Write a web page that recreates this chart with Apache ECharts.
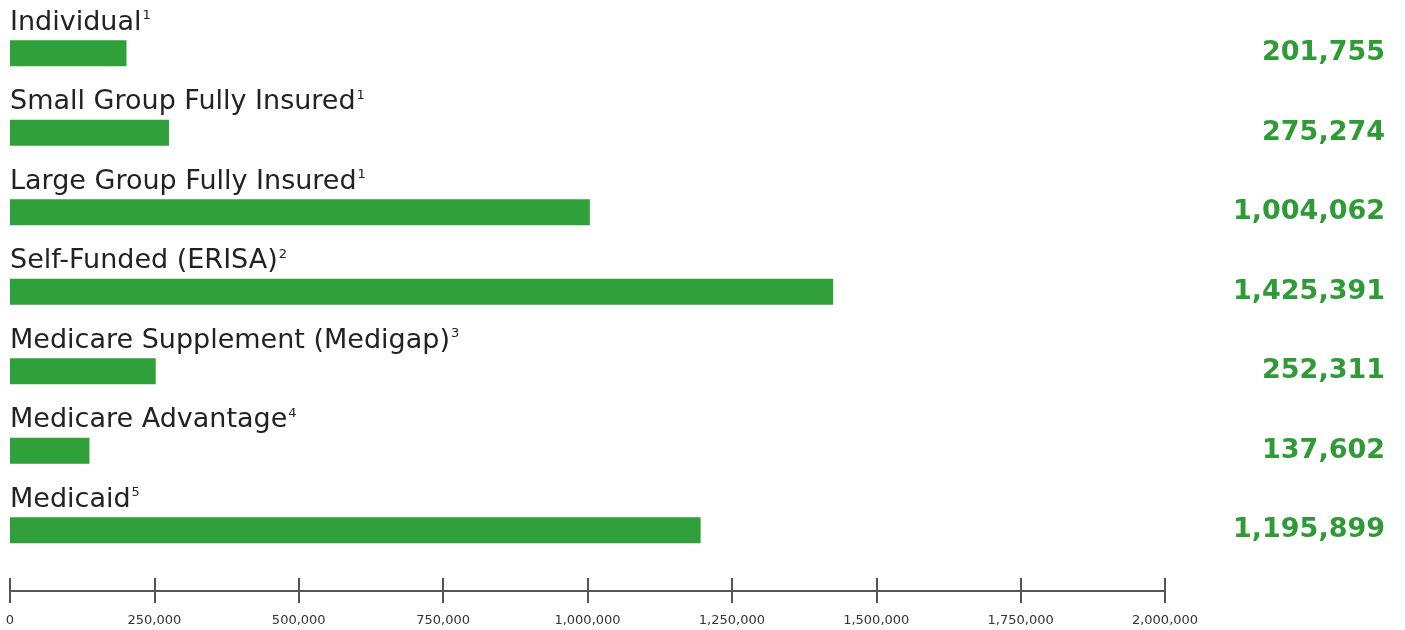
<!DOCTYPE html>
<html>
<head>
<meta charset="utf-8">
<script src="https://cdn.jsdelivr.net/npm/echarts@6/dist/echarts.min.js"></script>
<style>
  html, body { margin: 0; padding: 0; background: #fff; }
  #chart { width: 1405px; height: 630px; }
</style>
</head>
<body>
<div id="chart"></div>
<script>
// Coverage categories, their footnote markers and enrollment counts
const categories = [
  'Individual',
  'Small Group Fully Insured',
  'Large Group Fully Insured',
  'Self-Funded (ERISA)',
  'Medicare Supplement (Medigap)',
  'Medicare Advantage',
  'Medicaid'
];
const footnotes = ['1', '1', '1', '2', '3', '4', '5'];
const enrollment = [201755, 275274, 1004062, 1425391, 252311, 137602, 1195899];
const axisTicks = [0, 250000, 500000, 750000, 1000000, 1250000, 1500000, 1750000, 2000000];

const FONT = 'DejaVu Sans';
const GREEN = '#30a13a';
const fmt = v => v.toLocaleString('en-US');

const chart = echarts.init(document.getElementById('chart'), null, { renderer: 'canvas' });

const xBase = {
  type: 'value',
  min: axisTicks[0],
  max: axisTicks[axisTicks.length - 1],
  interval: axisTicks[1] - axisTicks[0],
  position: 'bottom',
  offset: 21,
  splitLine: { show: false },
  axisLine: { show: true, lineStyle: { color: '#555', width: 2 } }
};

chart.setOption({
  animation: false,
  grid: { left: 10, right: 240, top: 13.5, bottom: 60, containLabel: false },
  xAxis: [
    Object.assign({}, xBase, {
      axisTick: { show: true, inside: false, length: 12, lineStyle: { color: '#555', width: 2 } },
      axisLabel: {
        show: true, margin: 23, color: '#333', fontFamily: FONT, fontSize: 13,
        formatter: v => fmt(v)
      }
    }),
    Object.assign({}, xBase, {
      axisTick: { show: true, inside: true, length: 13, lineStyle: { color: '#555', width: 2 } },
      axisLabel: { show: false }
    })
  ],
  yAxis: [
    {
      type: 'category',
      data: categories,
      inverse: true,
      position: 'left',
      axisLine: { show: false },
      axisTick: { show: false },
      axisLabel: { show: false }
    },
    {
      type: 'category',
      data: enrollment.map(fmt),
      inverse: true,
      position: 'right',
      axisLine: { show: false },
      axisTick: { show: false },
      axisLabel: {
        show: true, align: 'right', margin: 220,
        color: '#2f9b37', fontFamily: FONT, fontWeight: 'bold', fontSize: 27,
        padding: [0, 0, 16, 0]
      }
    }
  ],
  series: [{
    type: 'bar',
    data: enrollment,
    xAxisIndex: 0,
    yAxisIndex: 0,
    barWidth: 26,
    itemStyle: { color: GREEN },
    label: {
      show: true,
      position: [0, -4],
      align: 'left',
      verticalAlign: 'bottom',
      formatter: p => '{n|' + categories[p.dataIndex] + '}{s|' + footnotes[p.dataIndex] + '}',
      rich: {
        n: { fontFamily: FONT, fontSize: 27, color: '#222' },
        s: { fontFamily: FONT, fontSize: 13, color: '#222', verticalAlign: 'top', padding: [0, 0, 0, 1] }
      }
    }
  }]
});
</script>
</body>
</html>
